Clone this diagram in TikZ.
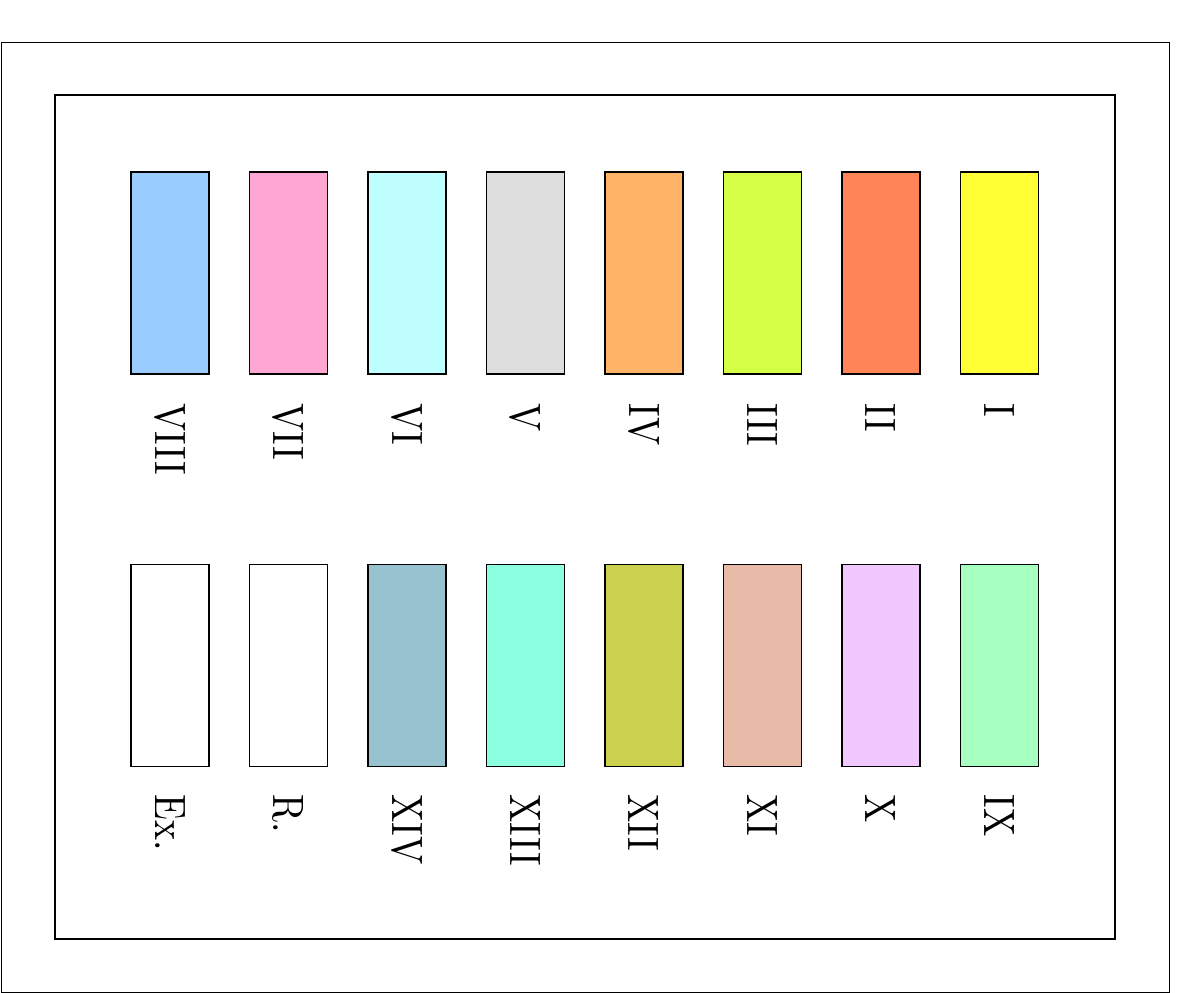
\documentclass[tikz,border=0pt]{standalone}
\usetikzlibrary{positioning}

\definecolor{colI}{RGB}{255,255,51}
\definecolor{colII}{RGB}{255,133,89}
\definecolor{colIII}{RGB}{212,255,69}
\definecolor{colIV}{RGB}{255,179,102}
\definecolor{colV}{RGB}{221,221,221}
\definecolor{colVI}{RGB}{192,255,255}
\definecolor{colVII}{RGB}{255,166,210}
\definecolor{colVIII}{RGB}{153,204,255}
\definecolor{colIX}{RGB}{166,255,191}
\definecolor{colX}{RGB}{240,199,255}
\definecolor{colXI}{RGB}{232,186,168}
\definecolor{colXII}{RGB}{204,209,77}
\definecolor{colXIII}{RGB}{140,255,224}
\definecolor{colXIV}{RGB}{153,194,209}

\begin{document}
\begin{tikzpicture}
    % Define the style for the boxes
    \tikzset{
        swatch/.style={rectangle, draw, line width=0.7pt, minimum width=1.56cm, minimum height=4.04cm, inner sep=0pt},
        numeral/.style={rotate=-90, anchor=west, inner sep=0pt, font=\normalsize, xscale=2.15, yscale=2.5}
    }

    % Page and frame
    \useasboundingbox (0,0) rectangle (23.54,-19.86);
    \draw[line width=0.5pt] (0.02,-0.84) rectangle (23.38,-19.84);
    \draw[line width=1.3pt] (1.1,-1.9) rectangle (22.3,-18.78);

    % Draw the upper row of swatches
    \node[swatch, fill=colVIII] (b8) at (3.4,-5.46) {};
    \node[swatch, fill=colVII, right=0.785cm of b8] (b7) {};
    \node[swatch, fill=colVI, right=0.785cm of b7] (b6) {};
    \node[swatch, fill=colV, right=0.785cm of b6] (b5) {};
    \node[swatch, fill=colIV, right=0.785cm of b5] (b4) {};
    \node[swatch, fill=colIII, right=0.785cm of b4] (b3) {};
    \node[swatch, fill=colII, right=0.785cm of b3] (b2) {};
    \node[swatch, fill=colI, right=0.785cm of b2] (b1) {};

    % Draw the lower row of swatches
    \node[swatch, fill=white, below=3.78cm of b8] (bEx) {};
    \node[swatch, fill=white, right=0.785cm of bEx] (bR) {};
    \node[swatch, fill=colXIV, right=0.785cm of bR] (b14) {};
    \node[swatch, fill=colXIII, right=0.785cm of b14] (b13) {};
    \node[swatch, fill=colXII, right=0.785cm of b13] (b12) {};
    \node[swatch, fill=colXI, right=0.785cm of b12] (b11) {};
    \node[swatch, fill=colX, right=0.785cm of b11] (b10) {};
    \node[swatch, fill=colIX, right=0.785cm of b10] (b9) {};

    % Labels under the swatches
    \begin{scope}[every node/.append style={numeral}]
        \node at ([yshift=-0.56cm]b8.south) (l8) {VIII};
        \node at ([yshift=-0.56cm]b7.south) (l7) {VII};
        \node at ([yshift=-0.56cm]b6.south) (l6) {VI};
        \node at ([yshift=-0.56cm]b5.south) (l5) {V};
        \node at ([yshift=-0.56cm]b4.south) (l4) {IV};
        \node at ([yshift=-0.56cm]b3.south) (l3) {III};
        \node at ([yshift=-0.56cm]b2.south) (l2) {II};
        \node at ([yshift=-0.56cm]b1.south) (l1) {I};

        \node at ([yshift=-0.54cm]bEx.south) (lEx) {Ex.};
        \node at ([yshift=-0.54cm]bR.south) (lR) {R.};
        \node at ([yshift=-0.54cm]b14.south) (l14) {XIV};
        \node at ([yshift=-0.54cm]b13.south) (l13) {XIII};
        \node at ([yshift=-0.54cm]b12.south) (l12) {XII};
        \node at ([yshift=-0.54cm]b11.south) (l11) {XI};
        \node at ([yshift=-0.54cm]b10.south) (l10) {X};
        \node at ([yshift=-0.54cm]b9.south) (l9) {IX};
    \end{scope}
\end{tikzpicture}
\end{document}
